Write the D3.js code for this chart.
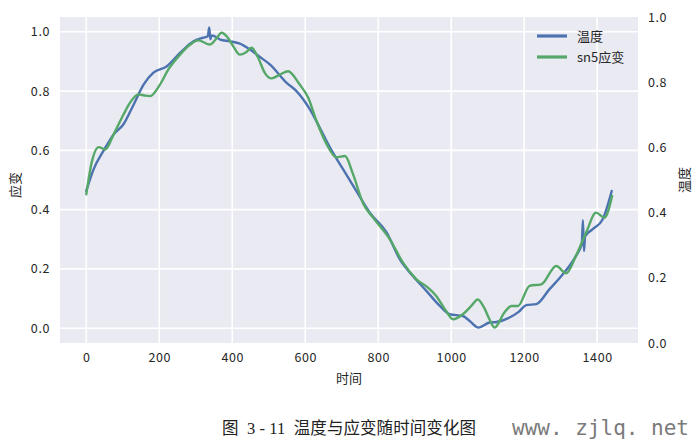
<!DOCTYPE html>
<html>
<head>
<meta charset="utf-8">
<script src="https://cdn.jsdelivr.net/npm/d3@7"></script>
<style>
  html, body { margin: 0; padding: 0; background: #ffffff; }
  svg { display: block; }
  text { font-family: "Noto Sans CJK SC", "DejaVu Sans", sans-serif; }
</style>
</head>
<body>
<svg id="chart" width="698" height="445"></svg>
<script>
// ---- data ----
const tempTime = [0, 20, 47, 75, 102, 130, 157, 184, 221, 257, 294, 320, 333, 337, 340, 344, 367, 394, 421, 449, 476, 503, 549, 576, 613, 640, 668, 704, 740, 777, 823, 859, 895, 932, 969, 996, 1032, 1050, 1075, 1105, 1124, 1160, 1185, 1206, 1233, 1269, 1306, 1342, 1358, 1361, 1364, 1367, 1388, 1415, 1440];
const tempValue = [0.463, 0.536, 0.598, 0.654, 0.688, 0.755, 0.822, 0.862, 0.884, 0.929, 0.968, 0.980, 0.985, 1.015, 0.975, 0.988, 0.974, 0.968, 0.960, 0.940, 0.915, 0.890, 0.828, 0.800, 0.738, 0.676, 0.609, 0.536, 0.463, 0.390, 0.323, 0.233, 0.176, 0.126, 0.075, 0.047, 0.041, 0.025, 0.002, 0.019, 0.021, 0.036, 0.055, 0.078, 0.081, 0.131, 0.182, 0.244, 0.285, 0.364, 0.260, 0.310, 0.334, 0.367, 0.463];

const strainTime = [0, 15, 34, 52, 75, 102, 120, 143, 160, 175, 202, 225, 257, 285, 307, 339, 355, 371, 388, 403, 421, 437, 453, 470, 490, 508, 531, 553, 585, 608, 631, 659, 685, 709, 731, 759, 786, 832, 868, 905, 936, 959, 985, 1005, 1032, 1055, 1073, 1090, 1105, 1119, 1146, 1165, 1183, 1215, 1247, 1288, 1315, 1342, 1370, 1397, 1420, 1441];
const strainValue = [0.452, 0.560, 0.611, 0.603, 0.654, 0.721, 0.761, 0.789, 0.785, 0.783, 0.822, 0.873, 0.923, 0.957, 0.971, 0.957, 0.975, 0.997, 0.980, 0.951, 0.923, 0.930, 0.946, 0.915, 0.860, 0.843, 0.856, 0.867, 0.822, 0.778, 0.699, 0.620, 0.577, 0.581, 0.520, 0.420, 0.373, 0.300, 0.221, 0.165, 0.137, 0.109, 0.060, 0.030, 0.047, 0.075, 0.097, 0.070, 0.030, 0.002, 0.053, 0.075, 0.075, 0.143, 0.148, 0.210, 0.185, 0.244, 0.323, 0.390, 0.373, 0.446];

const xTicks = [0, 200, 400, 600, 800, 1000, 1200, 1400];
const leftTicks = [0.0, 0.2, 0.4, 0.6, 0.8, 1.0];
const rightTicks = [0.0, 0.2, 0.4, 0.6, 0.8, 1.0];
const seriesNames = ["温度", "sn5应变"];
const seriesColors = ["#4C72B0", "#55A868"];
const xLabel = "时间";
const leftLabel = "应变";
const rightLabel = "温度";
const caption = "图  3 - 11  温度与应变随时间变化图";
const watermark = "www. zjlq. net";

// ---- layout ----
const svg = d3.select("#chart");
const L = 60, R = 638, T = 17, B = 343;

const x = d3.scaleLinear().domain([-72, 1512]).range([L, R]);
const yL = d3.scaleLinear().domain([-0.05, 1.05]).range([B, T]);
const yR = d3.scaleLinear().domain([0, 1]).range([B, T]);

svg.append("rect").attr("x", L).attr("y", T).attr("width", R - L).attr("height", B - T).attr("fill", "#EAEAF2");

// grid
const grid = svg.append("g");
grid.selectAll(".vg").data(xTicks).enter().append("line")
  .attr("x1", d => x(d)).attr("x2", d => x(d)).attr("y1", T).attr("y2", B)
  .attr("stroke", "#ffffff").attr("stroke-width", 1.6);
grid.selectAll(".hg").data(leftTicks).enter().append("line")
  .attr("x1", L).attr("x2", R).attr("y1", d => yL(d)).attr("y2", d => yL(d))
  .attr("stroke", "#ffffff").attr("stroke-width", 1.6);

// axes (labels only, no domain lines / ticks)
const fmt = d3.format(".1f");
const axB = svg.append("g").attr("transform", `translate(0,${B})`)
  .call(d3.axisBottom(x).tickValues(xTicks).tickSize(0).tickPadding(10).tickFormat(d3.format("d")));
const axL = svg.append("g").attr("transform", `translate(${L},0)`)
  .call(d3.axisLeft(yL).tickValues(leftTicks).tickSize(0).tickPadding(10).tickFormat(fmt));
const axR = svg.append("g").attr("transform", `translate(${R},0)`)
  .call(d3.axisRight(yR).tickValues(rightTicks).tickSize(0).tickPadding(10).tickFormat(fmt));
[axB, axL, axR].forEach(a => {
  a.select(".domain").remove();
  a.selectAll("text").attr("fill", "#262626").style("font-size", "12.5px")
    .style("font-family", '"Noto Sans CJK SC", sans-serif').style("letter-spacing", "0.6px");
});

// lines
const clipId = "plotclip";
svg.append("clipPath").attr("id", clipId).append("rect")
  .attr("x", L).attr("y", T).attr("width", R - L).attr("height", B - T);

const tempData = tempTime.map((t, i) => [t, tempValue[i]]);
const strainData = strainTime.map((t, i) => [t, strainValue[i]]);
const line = d3.line().x(d => x(d[0])).y(d => yL(d[1])).curve(d3.curveMonotoneX);

const lines = svg.append("g").attr("clip-path", `url(#${clipId})`);
lines.append("path").datum(tempData).attr("d", line)
  .attr("fill", "none").attr("stroke", seriesColors[0]).attr("stroke-width", 2.4)
  .attr("stroke-linejoin", "round").attr("stroke-linecap", "round");
lines.append("path").datum(strainData).attr("d", line)
  .attr("fill", "none").attr("stroke", seriesColors[1]).attr("stroke-width", 2.4)
  .attr("stroke-linejoin", "round").attr("stroke-linecap", "round");

// legend
const leg = svg.append("g");
seriesNames.forEach((name, i) => {
  const yy = 36 + i * 21;
  leg.append("line").attr("x1", 537).attr("x2", 567).attr("y1", yy).attr("y2", yy)
    .attr("stroke", seriesColors[i]).attr("stroke-width", 3.2);
  leg.append("text").attr("x", 577).attr("y", yy).attr("dy", "0.35em")
    .attr("fill", "#262626").style("font-size", "13px").text(name);
});

// axis titles
svg.append("text").attr("x", (L + R) / 2).attr("y", 378).attr("dy", "0.35em")
  .attr("text-anchor", "middle").attr("fill", "#262626").style("font-size", "13px").text(xLabel);
svg.append("text").attr("transform", `translate(15,${(T + B) / 2 + 5}) rotate(-90)`)
  .attr("text-anchor", "middle").attr("dy", "0.35em")
  .attr("fill", "#262626").style("font-size", "13px").text(leftLabel);
svg.append("text").attr("transform", `translate(684,${(T + B) / 2}) rotate(-90)`)
  .attr("text-anchor", "middle").attr("dy", "0.35em")
  .attr("fill", "#262626").style("font-size", "13px").text(rightLabel);

// caption + watermark
svg.append("text").attr("x", 222).attr("y", 428).attr("dy", "0.35em")
  .attr("fill", "#222").style("font-size", "16.5px").style("white-space", "pre")
  .attr("textLength", 254).attr("lengthAdjust", "spacing")
  .style("font-family", '"Liberation Serif", "Noto Sans CJK SC", serif').text(caption);
svg.append("text").attr("x", 512).attr("y", 428).attr("dy", "0.35em")
  .attr("fill", "#7a7a7a").style("font-size", "21px").style("white-space", "pre")
  .style("font-family", '"DejaVu Sans Mono", monospace').text(watermark);
</script>
</body>
</html>
